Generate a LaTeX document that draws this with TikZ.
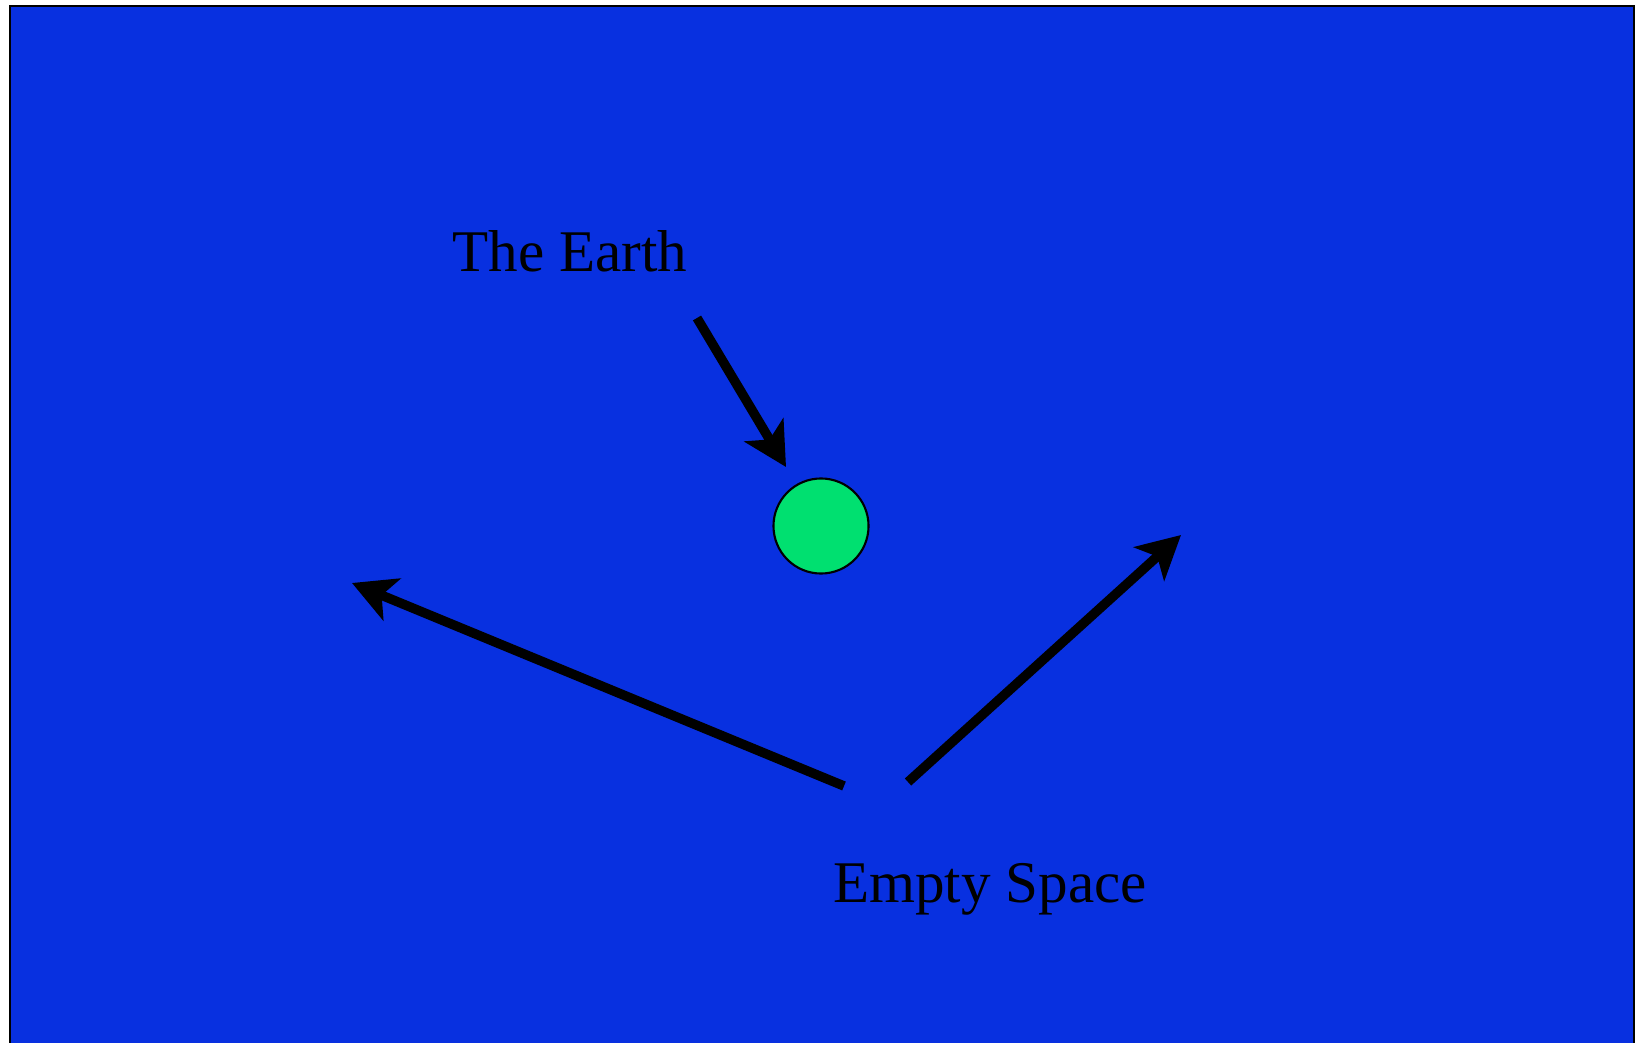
\documentclass[tikz,border=0pt]{standalone}
\definecolor{spaceblue}{HTML}{0830E0}
\definecolor{earthgreen}{HTML}{00E070}
\usepackage{fontspec}
\setmainfont{Liberation Serif}
\usepackage{tikz}
\usetikzlibrary{arrows.meta}

\begin{document}
\begin{tikzpicture}[x=0.01cm, y=-0.01cm, >={Stealth[length=0.43cm, width=0.45cm, inset=0.11cm]}]
  \clip (0,0) rectangle (1643,1043);
  \fill[white] (0,0) rectangle (1643,1043);
  % Space
  \filldraw[fill=spaceblue, draw=black, line width=0.7pt] (10,6) rectangle (1634,1200);

  % Earth
  \node[circle, draw=black, fill=earthgreen, line width=0.6pt, minimum size=0.95cm, inner sep=0pt] (earth) at (821,526) {};
  \node[anchor=base, font=\fontsize{16.8}{20}\selectfont] (earthlabel) at (570,272) {The Earth};
  \coordinate (earthtail) at (697,318);
  \coordinate (earthtip) at (786,467);
  \draw[->, line width=2.7pt] (earthtail) -- (earthtip);

  % Empty space
  \node[anchor=base, font=\fontsize{16.8}{20}\selectfont] (spacelabel) at (990,902) {Empty Space};
  \coordinate (lefttail) at (844,786);
  \coordinate (lefttip) at (352,583);
  \coordinate (righttail) at (908,782);
  \coordinate (righttip) at (1181,535);
  \draw[->, line width=2.7pt] (lefttail) -- (lefttip);
  \draw[->, line width=2.7pt] (righttail) -- (righttip);
\end{tikzpicture}
\end{document}
